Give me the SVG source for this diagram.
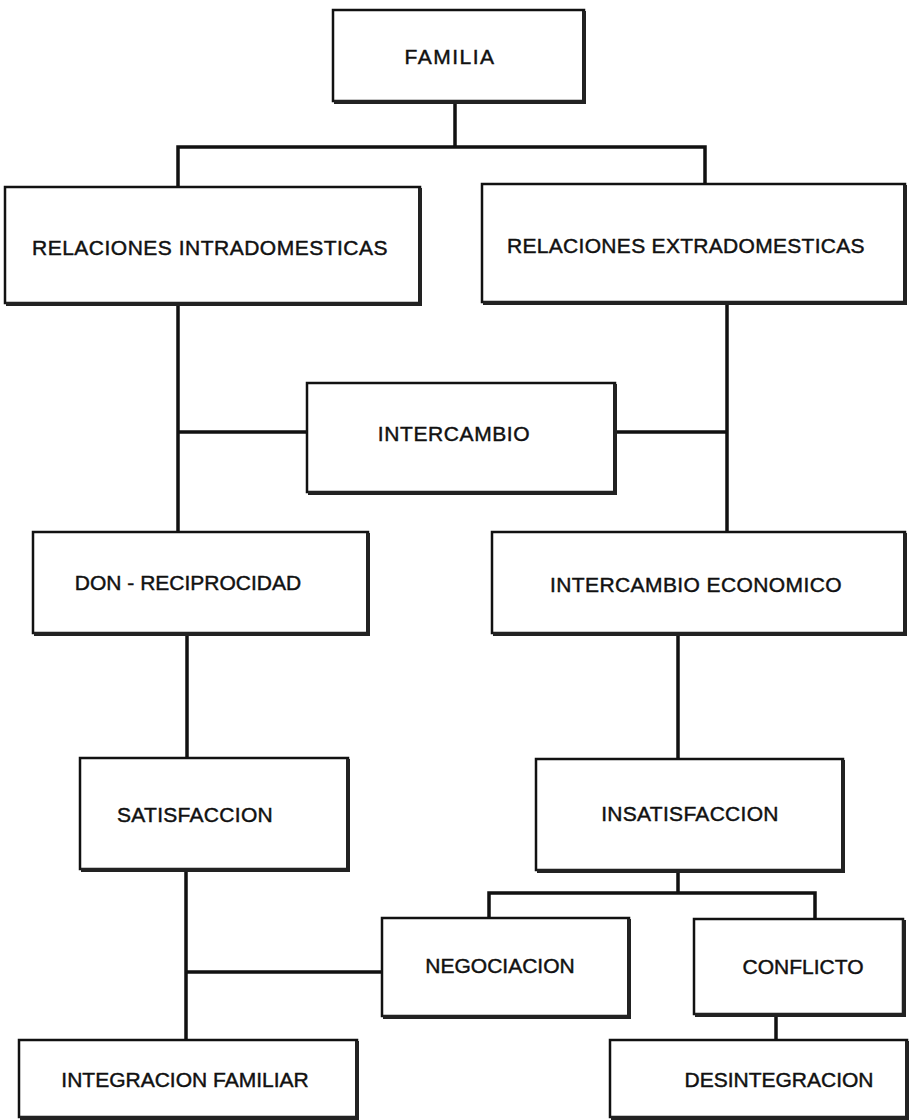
<svg xmlns="http://www.w3.org/2000/svg" width="909" height="1120" viewBox="0 0 909 1120">
<style>
.box{fill:#fff;stroke:#111;stroke-width:2.5}
.sh{fill:none;stroke:#222;stroke-width:4}
.lbl{font-family:"Liberation Sans",Arial,sans-serif;font-size:21px;fill:#111;stroke:#111;stroke-width:0.45;text-anchor:middle}
.con{stroke:#111;stroke-width:3.5;fill:none;stroke-linecap:square}
</style>
<rect width="909" height="1120" fill="#fff"/>
<g id="connectors">
<path class="con" d="M455,101 V147 M178,147 H705 M178,147 V187 M705,147 V184"/>
<path class="con" d="M178,303 V532 M178,432 H307"/>
<path class="con" d="M727,302 V532 M615,432 H727"/>
<path class="con" d="M187,633 V758"/>
<path class="con" d="M678,633 V759"/>
<path class="con" d="M678,870 V893 M489,893 H815 M489,893 V918 M815,893 V919"/>
<path class="con" d="M186,869 V1040 M186,972 H382"/>
<path class="con" d="M776,1014 V1040"/>
</g>
<g id="familia">
<rect class="box" x="333" y="10" width="251" height="91"/>
<path class="sh" d="M584,11 V102 H334"/>
<text class="lbl" x="450" y="64" letter-spacing="1.5">FAMILIA</text>
</g>
<g id="intra">
<rect class="box" x="5" y="187" width="415" height="116"/>
<path class="sh" d="M420,188 V304 H6"/>
<text class="lbl" x="210" y="255" letter-spacing="0.5">RELACIONES INTRADOMESTICAS</text>
</g>
<g id="extra">
<rect class="box" x="482" y="184" width="423" height="118"/>
<path class="sh" d="M905,185 V303 H483"/>
<text class="lbl" x="686" y="253" letter-spacing="0.3">RELACIONES EXTRADOMESTICAS</text>
</g>
<g id="intercambio">
<rect class="box" x="307" y="383" width="308" height="109"/>
<path class="sh" d="M615,384 V493 H308"/>
<text class="lbl" x="454" y="441" letter-spacing="0.6">INTERCAMBIO</text>
</g>
<g id="don">
<rect class="box" x="33" y="532" width="335" height="101"/>
<path class="sh" d="M368,533 V634 H34"/>
<text class="lbl" x="188" y="590">DON - RECIPROCIDAD</text>
</g>
<g id="economico">
<rect class="box" x="492" y="532" width="413" height="101"/>
<path class="sh" d="M905,533 V634 H493"/>
<text class="lbl" x="696" y="592" letter-spacing="0.4">INTERCAMBIO ECONOMICO</text>
</g>
<g id="satisfaccion">
<rect class="box" x="80" y="758" width="268" height="111"/>
<path class="sh" d="M348,759 V870 H81"/>
<text class="lbl" x="195" y="822" letter-spacing="0.3">SATISFACCION</text>
</g>
<g id="insatisfaccion">
<rect class="box" x="536" y="759" width="307" height="111"/>
<path class="sh" d="M843,760 V871 H537"/>
<text class="lbl" x="690" y="821" letter-spacing="0.3">INSATISFACCION</text>
</g>
<g id="negociacion">
<rect class="box" x="382" y="918" width="247" height="98"/>
<path class="sh" d="M629,919 V1017 H383"/>
<text class="lbl" x="500" y="973">NEGOCIACION</text>
</g>
<g id="conflicto">
<rect class="box" x="694" y="919" width="209" height="95"/>
<path class="sh" d="M904,920 V1015 H695"/>
<text class="lbl" x="803" y="974">CONFLICTO</text>
</g>
<g id="integracion">
<rect class="box" x="19" y="1040" width="338" height="77"/>
<path class="sh" d="M357,1041 V1118 H20"/>
<text class="lbl" x="185" y="1087">INTEGRACION FAMILIAR</text>
</g>
<g id="desintegracion">
<rect class="box" x="610" y="1040" width="297" height="77"/>
<path class="sh" d="M907,1041 V1118 H611"/>
<text class="lbl" x="779" y="1087">DESINTEGRACION</text>
</g>
</svg>
